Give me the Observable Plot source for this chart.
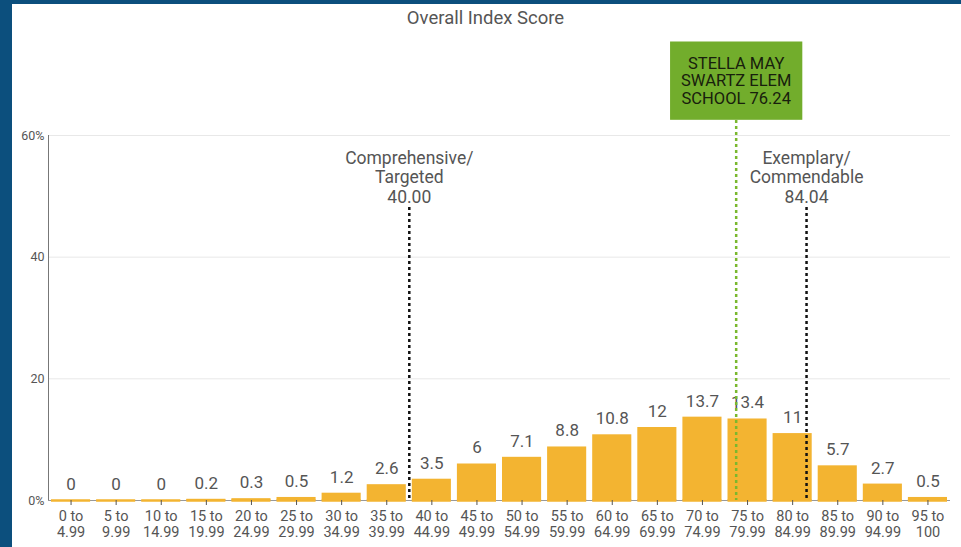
<!DOCTYPE html>
<html><head><meta charset="utf-8">
<script src="https://cdn.jsdelivr.net/npm/d3@7"></script>
<script src="https://cdn.jsdelivr.net/npm/@observablehq/plot@0.6"></script>
<style>
body{margin:0;background:#0c4f7d;width:961px;height:547px;overflow:hidden;position:relative}
#panel{position:absolute;left:12px;top:4px;width:949px;height:543px;background:#fff}
</style>
</head><body><div id="panel"></div>
<script>
const title = "Overall Index Score";
const binEdges = [0,5,10,15,20,25,30,35,40,45,50,55,60,65,70,75,80,85,90,95,100];
const binLabels = ["0 to\n4.99","5 to\n9.99","10 to\n14.99","15 to\n19.99","20 to\n24.99","25 to\n29.99","30 to\n34.99","35 to\n39.99","40 to\n44.99","45 to\n49.99","50 to\n54.99","55 to\n59.99","60 to\n64.99","65 to\n69.99","70 to\n74.99","75 to\n79.99","80 to\n84.99","85 to\n89.99","90 to\n94.99","95 to\n100"];
const shares = [0,0,0,0.2,0.3,0.5,1.2,2.6,3.5,6,7.1,8.8,10.8,12,13.7,13.4,11,5.7,2.7,0.5];
const yTicks = [0,20,40,60];
const thresholds = [40, 84.04];
const thresholdLabels = ["Comprehensive/\nTargeted\n40.00","Exemplary/\nCommendable\n84.04"];
const schoolScore = 76.24;
const schoolLabel = "STELLA MAY\nSWARTZ ELEM\nSCHOOL 76.24";

const data = shares.map((v,i)=>({start:binEdges[i], end:binEdges[i+1], mid:(binEdges[i]+binEdges[i+1])/2, label:binLabels[i], value:v}));
const mids = data.map(d=>d.mid);

const barColor = "#f3b431";
const plot = Plot.plot({
  width:949, height:543,
  marginLeft:36, marginRight:11, marginTop:131, marginBottom:47,
  style:{fontFamily:"Roboto, sans-serif", background:"transparent", overflow:"visible"},
  x:{domain:[0,100], label:null},
  y:{domain:[0,60], label:null},
  marks:[
    Plot.gridY([20,40,60], {stroke:"#e8e8e8", strokeOpacity:1}),
    Plot.ruleY([0], {stroke:"#999"}),
    Plot.rectY(data, {x1:"start", x2:"end", y1:0, y2:"value", fill:barColor, insetLeft:3, insetRight:3}),
    Plot.ruleY(data, {x1:"start", x2:"end", y:0, stroke:barColor, strokeWidth:2.5, insetLeft:3, insetRight:3}),
    Plot.ruleX([0], {stroke:"#777"}),
    Plot.axisY({ticks:yTicks, tickFormat:d=>(d===0||d===60)?d+"%":String(d), tickSize:0, tickPadding:4, fontSize:12.5, color:"#555", label:null}),
    Plot.axisX({ticks:mids, tickFormat:d=>data[mids.indexOf(d)].label, tickSize:5, tickPadding:4, fontSize:14.5, lineHeight:1.12, color:"#555", label:null}),
    Plot.text(data, {x:"mid", y:"value", text:d=>String(d.value), dy:-16, lineAnchor:"middle", fontSize:17, fill:"#555"}),
    Plot.text([title], {text:d=>d, frameAnchor:"top", lineAnchor:"middle", dy:-117, dx:-14, fontSize:18.5, fill:"#555"}),
    Plot.text(thresholds, {x:d=>d, text:(d,i)=>thresholdLabels[i], frameAnchor:"top", lineAnchor:"bottom", dy:67, fontSize:17.5, lineHeight:1.1, fill:"#555"}),
    Plot.ruleX(thresholds, {stroke:"#111", strokeWidth:2.5, strokeDasharray:"3,3", insetTop:72}),
    Plot.ruleX([schoolScore], {stroke:"#7ab82e", strokeWidth:2.5, strokeDasharray:"3,3", insetTop:-15}),
    Plot.text([schoolLabel], {x:schoolScore, text:d=>d, frameAnchor:"top", lineAnchor:"middle", dy:-55, fontSize:16.5, lineHeight:1.07, fill:"#18200c"})
  ]
});
document.getElementById("panel").appendChild(plot);
const t = Array.from(plot.querySelectorAll("text")).find(e=>e.textContent.includes("STELLA"));
if (t) {
  const b = t.getBBox();
  const padX = 11, padY = 12;
  const r = document.createElementNS("http://www.w3.org/2000/svg","rect");
  r.setAttribute("x", b.x - padX); r.setAttribute("y", b.y - padY);
  r.setAttribute("width", b.width + 2*padX); r.setAttribute("height", b.height + 2*padY);
  r.setAttribute("fill", "#72ad2c");
  if (t.getAttribute("transform")) r.setAttribute("transform", t.getAttribute("transform"));
  t.parentNode.insertBefore(r, t);
}
</script>
</body></html>
